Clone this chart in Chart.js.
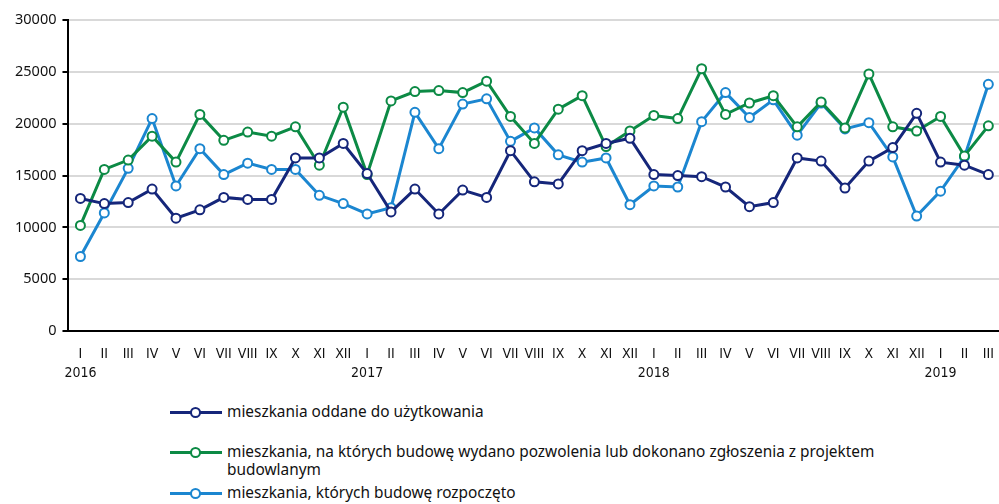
<!DOCTYPE html>
<html>
<head>
<meta charset="utf-8">
<script src="https://cdn.jsdelivr.net/npm/chart.js@4"></script>
<style>
    html, body { margin: 0; padding: 0; background: #fff; }
    body { width: 999px; height: 504px; position: relative; overflow: hidden; font-family: 'Noto Sans', sans-serif; }
    #wrap { position: absolute; left: 0; top: 0; width: 1008px; height: 397px; }
    #legend { position: absolute; left: 170px; top: 403px; width: 722px; font-size: 15.4px; color: #111; }
    .lg-item { display: flex; align-items: flex-start; line-height: 18px; }
    .lg-mark { position: relative; flex: 0 0 52px; height: 18px; margin-right: 5px; }
    .lg-mark .ln { position: absolute; left: 0; right: 0; top: 8px; height: 3px; }
    .lg-mark .pt { position: absolute; left: 20px; top: 4px; width: 7px; height: 7px; border-radius: 50%; background: #fff; border: 2px solid; }
</style>
</head>
<body>
<div id="wrap"><canvas id="chart"></canvas></div>
<div id="legend"></div>
<script>
// Months (Roman numerals), 2016-I .. 2019-III
const months = ['I','II','III','IV','V','VI','VII','VIII','IX','X','XI','XII'];
const years = ['2016', '2017', '2018', '2019'];
const monthCount = 39;

const seriesNames = [
    'mieszkania oddane do użytkowania',
    'mieszkania, na których budowę wydano pozwolenia lub dokonano zgłoszenia z projektem budowlanym',
    'mieszkania, których budowę rozpoczęto'
];
const seriesColors = ['#15267a', '#0c8a45', '#1b86d0'];

const oddane = [
    12800, 12300, 12400, 13700, 10900, 11700, 12900, 12700, 12700, 16700, 16700, 18100,
    15200, 11500, 13700, 11300, 13600, 12900, 17400, 14400, 14200, 17400, 18100, 18600,
    15100, 15000, 14900, 13900, 12000, 12400, 16700, 16400, 13800, 16400, 17700, 21000,
    16300, 16000, 15100
];
const pozwolenia = [
    10200, 15600, 16500, 18800, 16300, 20900, 18400, 19200, 18800, 19700, 16000, 21600,
    15100, 22200, 23100, 23200, 23000, 24100, 20700, 18100, 21400, 22700, 17800, 19300,
    20800, 20500, 25300, 20900, 22000, 22700, 19700, 22100, 19600, 24800, 19700, 19300,
    20700, 16900, 19800
];
const rozpoczete = [
    7200, 11400, 15700, 20500, 14000, 17600, 15100, 16200, 15600, 15600, 13100, 12300,
    11300, 11900, 21100, 17600, 21900, 22400, 18300, 19600, 17000, 16300, 16700, 12200,
    14000, 13900, 20200, 23000, 20600, 22300, 18900, 22000, 19500, 20100, 16800, 11100,
    13500, 16800, 23800
];

const yMin = 0, yMax = 30000, yStep = 5000;

// labels: month, with the year underneath for January
const labels = [];
for (let i = 0; i < monthCount; i++) {
    const m = months[i % 12];
    labels.push(i % 12 === 0 ? [m, years[i / 12]] : m);
}

const allSeries = [oddane, pozwolenia, rozpoczete];
const datasets = allSeries.map((data, i) => ({
    label: seriesNames[i],
    data: data,
    borderColor: seriesColors[i],
    backgroundColor: '#ffffff',
    borderWidth: 3,
    pointRadius: 4.5,
    pointBorderWidth: 2,
    pointBackgroundColor: '#ffffff',
    pointBorderColor: seriesColors[i],
    tension: 0
}));

new Chart(document.getElementById('chart'), {
    type: 'line',
    data: { labels, datasets },
    options: {
        responsive: true,
        maintainAspectRatio: false,
        animation: false,
        layout: { padding: { top: 20, right: 0, left: 9, bottom: 0 } },
        plugins: { legend: { display: false }, tooltip: { enabled: false } },
        scales: {
            x: {
                offset: true,
                grid: { display: false, drawTicks: false },
                border: { display: true, color: '#000', width: 2 },
                ticks: {
                    color: '#111',
                    font: { family: "'Liberation Sans Narrow', 'DejaVu Sans Condensed', 'Noto Sans'", size: 14, lineHeight: 1.35 },
                    maxRotation: 0, autoSkip: false, padding: 14
                }
            },
            y: {
                min: yMin, max: yMax,
                ticks: { stepSize: yStep, color: '#111', font: { family: 'Noto Sans', size: 14.5 }, padding: 6, callback: v => String(v) },
                grid: { color: '#d9d9d9', lineWidth: 2, tickColor: '#000', tickLength: 6 },
                border: { color: '#000', width: 2 }
            }
        }
    }
});

// HTML legend built from the same series
const legendEl = document.getElementById('legend');
legendEl.innerHTML = seriesNames.map((name, i) => `
    <div class="lg-item" style="margin-bottom:${i === 0 ? 22 : 5}px">
        <span class="lg-mark"><span class="ln" style="background:${seriesColors[i]}"></span><span class="pt" style="border-color:${seriesColors[i]}"></span></span>
        <span>${name}</span>
    </div>
`).join('');
</script>
</body>
</html>
